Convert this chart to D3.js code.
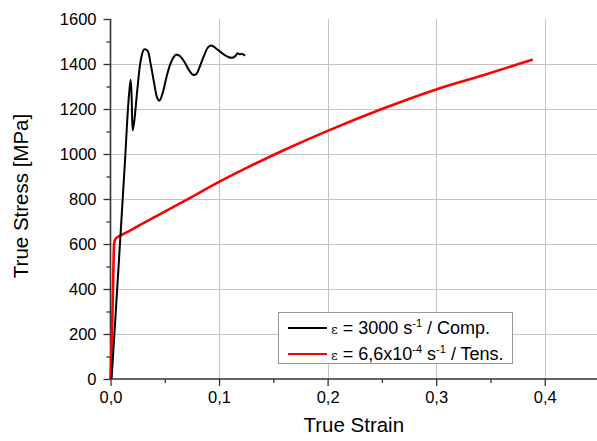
<!DOCTYPE html>
<html>
<head>
<meta charset="utf-8">
<script src="https://d3js.org/d3.v7.min.js"></script>
<style>
  body { margin: 0; background: #fff; }
  text { font-family: "Liberation Sans", Arial, sans-serif; fill: #000; }
</style>
</head>
<body>
<div id="chart"></div>
<script>
// data: [true strain, true stress MPa]
var compStrain = [0.001, 0.0078, 0.0134, 0.0165, 0.0185, 0.0195, 0.0205, 0.022, 0.025, 0.028, 0.031, 0.034,
  0.037, 0.040, 0.043, 0.045, 0.048, 0.052, 0.056, 0.060, 0.064, 0.068, 0.072, 0.076, 0.079, 0.082,
  0.086, 0.090, 0.093, 0.097, 0.101, 0.105, 0.109, 0.112, 0.115, 0.117, 0.119, 0.121, 0.124];
var compStress = [0, 529, 973, 1230, 1330, 1250, 1105, 1150, 1300, 1420, 1465, 1460,
  1400, 1320, 1250, 1237, 1270, 1350, 1410, 1440, 1435, 1410, 1375, 1352, 1355, 1385,
  1435, 1475, 1482, 1470, 1455, 1440, 1430, 1428, 1435, 1448, 1443, 1445, 1437];

var tensStrain = [0, 0.001, 0.002, 0.0028, 0.0033, 0.0045, 0.007, 0.012, 0.02, 0.0256, 0.04, 0.067,
  0.1, 0.1286, 0.16, 0.2, 0.25, 0.3, 0.344, 0.389];
var tensStress = [0, 150, 330, 520, 600, 622, 632, 645, 665, 681, 718, 788,
  876, 946, 1018, 1103, 1200, 1287, 1351, 1420];

var xTicks = [0, 0.1, 0.2, 0.3, 0.4];
var yTicks = [0, 200, 400, 600, 800, 1000, 1200, 1400, 1600];

var W = 597, H = 441;
var svg = d3.select("#chart").append("svg").attr("width", W).attr("height", H);

var x = d3.scaleLinear().domain([0, 0.45]).range([110.5, 599]);
var y = d3.scaleLinear().domain([0, 1600]).range([379, 19]);

// grid
var grid = svg.append("g").attr("stroke", "#c4c4c4").attr("stroke-width", 1);
grid.selectAll("line.vx").data(xTicks.slice(1)).enter().append("line")
  .attr("x1", function (d) { return Math.round(x(d)) + 0.5; })
  .attr("x2", function (d) { return Math.round(x(d)) + 0.5; })
  .attr("y1", y(1600)).attr("y2", y(0));
grid.selectAll("line.hy").data(yTicks.slice(1, -1)).enter().append("line")
  .attr("y1", function (d) { return Math.round(y(d)) + 0.5; })
  .attr("y2", function (d) { return Math.round(y(d)) + 0.5; })
  .attr("x1", x(0)).attr("x2", W);

// axes
var xAxis = d3.axisBottom(x).tickValues(xTicks).tickSize(7).tickPadding(5)
  .tickFormat(function (d) { return d3.format(".1f")(d).replace(".", ","); });
var xMinor = d3.axisBottom(x).tickValues([0.05, 0.15, 0.25, 0.35, 0.45]).tickSize(4).tickFormat("");
var yAxis = d3.axisLeft(y).tickValues(yTicks).tickSize(7).tickPadding(7).tickFormat(d3.format("d"));
var yMinor = d3.axisLeft(y).tickValues(d3.range(100, 1600, 200)).tickSize(4).tickFormat("");

function styleAxis(g) {
  g.select(".domain").remove();
  g.selectAll("line").attr("stroke", "#333").attr("stroke-width", 1.3);
  g.selectAll("text").style("font-size", "16.5px").attr("fill", "#000");
}

svg.append("g").attr("transform", "translate(0," + y(0) + ")").call(xMinor).call(styleAxis);
svg.append("g").attr("transform", "translate(0," + y(0) + ")").call(xAxis).call(styleAxis);
svg.append("g").attr("transform", "translate(" + x(0) + ",0)").call(yMinor).call(styleAxis);
svg.append("g").attr("transform", "translate(" + x(0) + ",0)").call(yAxis).call(styleAxis);

svg.append("line").attr("x1", x(0)).attr("x2", W).attr("y1", y(0)).attr("y2", y(0))
  .attr("stroke", "#333").attr("stroke-width", 1.6);
svg.append("line").attr("x1", x(0)).attr("x2", x(0)).attr("y1", y(0)).attr("y2", y(1600))
  .attr("stroke", "#333").attr("stroke-width", 1.6);

// curves
var line = d3.line().curve(d3.curveMonotoneX)
  .x(function (d) { return x(d[0]); }).y(function (d) { return y(d[1]); });

var tens = d3.zip(tensStrain, tensStress);
var comp = d3.zip(compStrain, compStress);

svg.append("path").datum(tens).attr("d", line).attr("fill", "none")
  .attr("stroke", "#ff0000").attr("stroke-width", 2.6);
svg.append("path").datum(comp).attr("d", d3.line().curve(d3.curveCatmullRom)
    .x(function (d) { return x(d[0]); }).y(function (d) { return y(d[1]); }))
  .attr("fill", "none").attr("stroke", "#000").attr("stroke-width", 2);

// axis titles
svg.append("text").attr("x", (x(0) + W) / 2).attr("y", 432).attr("text-anchor", "middle")
  .style("font-size", "20.5px").text("True Strain");
svg.append("text").attr("transform", "translate(28,196) rotate(-90)")
  .attr("text-anchor", "middle").style("font-size", "20.5px").text("True Stress [MPa]");

// legend
var lg = svg.append("g");
lg.append("rect").attr("x", 278.5).attr("y", 312.5).attr("width", 234).attr("height", 51)
  .attr("fill", "#fff").attr("stroke", "#999").attr("stroke-width", 1);
var rows = [
  { color: "#000", parts: [["ε", "eps"], [" = 3000 s", ""], ["-1", "sup"], [" / Comp.", ""]] },
  { color: "#ff0000", parts: [["ε", "eps"], [" = 6,6x10", ""], ["-4", "sup"], [" s", ""], ["-1", "sup"], [" / Tens.", ""]] }
];
rows.forEach(function (r, i) {
  var cy = 328 + i * 26;
  lg.append("line").attr("x1", 288).attr("x2", 327).attr("y1", cy).attr("y2", cy)
    .attr("stroke", r.color).attr("stroke-width", 2.2);
  var t = lg.append("text").attr("x", 331).attr("y", cy + 6).style("font-size", "18px");
  r.parts.forEach(function (p, k) {
    var ts = t.append("tspan").text(p[0]);
    if (p[1] === "eps") ts.style("font-size", "13px").attr("font-family", "DejaVu Serif");
    if (p[1] === "sup") ts.style("font-size", "11px").attr("dy", -7);
    // back to the baseline after a superscript
    if (p[1] === "" && k > 0 && r.parts[k - 1][1] === "sup") ts.attr("dy", 7);
  });
});
</script>
</body>
</html>
